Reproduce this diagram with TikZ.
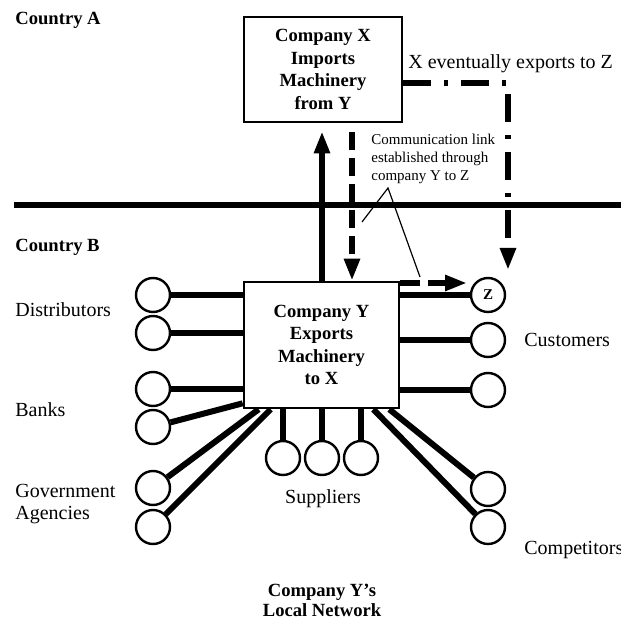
\documentclass[tikz,border=0pt]{standalone}
\usepackage{fontspec}
\setmainfont{Liberation Serif}
\usepackage{tikz}
\usetikzlibrary{calc,arrows.meta}
\tikzstyle{firm}=[draw,line width=1.3pt,inner sep=0pt,align=center,font=\fontsize{9.3}{11.25}\selectfont\bfseries]
\tikzstyle{actor}=[circle,draw,line width=1.2pt,inner sep=0pt,minimum size=17pt]
\tikzstyle{link}=[line width=3pt]
\tikzstyle{label}=[inner sep=0pt,align=left,font=\fontsize{10}{11}\selectfont]
\tikzstyle{country}=[inner sep=0pt,font=\fontsize{9.3}{11}\selectfont\bfseries]

\begin{document}
\begin{tikzpicture}[line join=miter,>={Triangle[length=11pt,width=7.5pt]},x=0.5pt,y=-0.5pt]
\clip(0,0) rectangle (621,620);
% the two companies
\node[firm,minimum width=79pt,minimum height=52.5pt] (xbox) at (323,69.5) {Company X\\Imports\\Machinery\\from Y};
\node[firm,minimum width=77.5pt,minimum height=63pt] (ybox) at (321.5,345) {Company Y\\Exports\\Machinery\\to X};
% border between the countries
\coordinate (bl) at (14,205);
\coordinate (br) at (621,205);
\draw [line width=2.6pt] (bl)-- (br);
\node[country,anchor=west] (ca) at (15,20) {Country A};
\node[country,anchor=west] (cb) at (15,247) {Country B};
% local network of Y
\node[actor] (d1) at (153,295) {};
\node[actor] (d2) at (153,333) {};
\node[actor] (b1) at (153,389) {};
\node[actor] (b2) at (153,427) {};
\node[actor] (g1) at (153,488) {};
\node[actor] (g2) at (153,527) {};
\node[actor] (s1) at (283,458) {};
\node[actor] (s2) at (322,458) {};
\node[actor] (s3) at (361,458) {};
\node[actor,font=\fontsize{7.5}{8}\selectfont\bfseries] (z) at (488,295) {Z};
\node[actor] (k1) at (488,340) {};
\node[actor] (k2) at (488,390) {};
\node[actor] (m1) at (488,489) {};
\node[actor] (m2) at (488,527) {};
\draw [link] (d1.east)-- (d1.east -| ybox.west);
\draw [link] (d2.east)-- (d2.east -| ybox.west);
\draw [link] (b1.east)-- (b1.east -| ybox.west);
\draw [link] (b2)-- ($(ybox.south west)+(0,-6)$);
\draw [link] (g1)-- ($(ybox.south west)+(16,0)$);
\draw [link] (g2)-- ($(ybox.south west)+(28,0)$);
\draw [link] (s1)-- (s1 |- ybox.south);
\draw [link] (s2)-- (s2 |- ybox.south);
\draw [link] (s3)-- (s3 |- ybox.south);
\draw [link] (z.west)-- (z.west -| ybox.east);
\draw [link] (k1.west)-- (k1.west -| ybox.east);
\draw [link] (k2.west)-- (k2.west -| ybox.east);
\draw [link] (m1)-- ($(ybox.south east)+(-11,0)$);
\draw [link] (m2)-- ($(ybox.south east)+(-27,0)$);
\node[label,anchor=west] (dist) at (15,310) {Distributors};
\node[label,anchor=west] (bank) at (15,410) {Banks};
\node[label,anchor=west] (gov) at (15,504) {Government\\Agencies};
\node[label] (supp) at (323,499) {Suppliers};
\node[label,anchor=west] (cust) at (524,340) {Customers};
\node[label,anchor=west] (comp) at (524,550) {Competitors};
\node[country,align=center,font=\fontsize{9.3}{10}\selectfont\bfseries] (net) at (322,600) {Company Y's\\Local Network};
% trade and communication
\draw [line width=2.8pt,->] (ybox.north -| 322,0)-- ([yshift=-4pt]xbox.south -| 322,0);
\coordinate (ctop) at (352,132);
\draw [line width=2.8pt,dash pattern=on 9pt off 4pt,->] (ctop)-- (ctop |- ybox.north);
\coordinate (ztip) at (467,283);
\draw [line width=2.8pt,dash pattern=on 10pt off 4pt,->] (ztip -| ybox.east)-- (ztip);
\coordinate (etip) at (508,270);
\draw [line width=2.8pt,dash pattern=on 14pt off 6.5pt on 2pt off 6.5pt,->] ([yshift=-6.75pt]xbox.east)-| (etip);
\node[label,anchor=west] (exp) at (408,64) {X eventually exports to Z};
\node[label,anchor=west,font=\fontsize{7.5}{9}\selectfont] (comm) at (371,159) {Communication link\\established through\\company Y to Z};
\coordinate (apex) at (388,188);
\coordinate (p1) at (362,222);
\coordinate (p2) at (420,277);
\draw [line width=0.6pt] (p1)-- (apex)-- (p2);
\end{tikzpicture}
\end{document}
